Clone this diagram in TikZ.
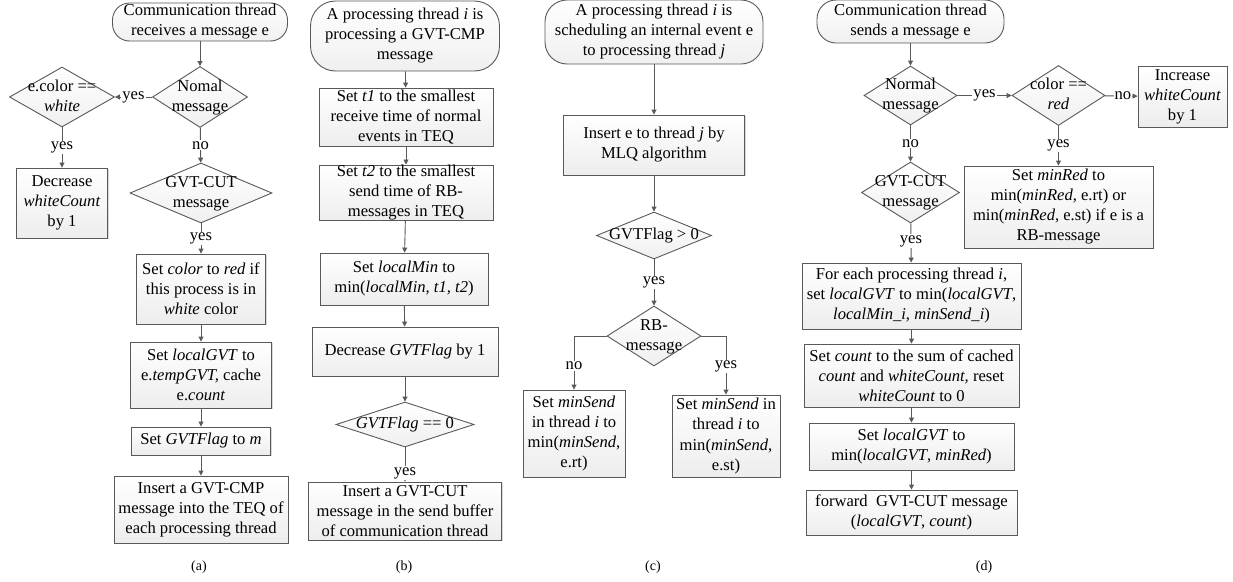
\documentclass[tikz,border=0pt]{standalone}
\usepackage{fontspec}
\setmainfont{Liberation Serif}
\usetikzlibrary{arrows.meta, shadows, shapes.geometric}

\newcommand{\dtext}[1]{\makebox[0pt]{\begin{tabular}{@{}c@{}}#1\end{tabular}}}

\begin{document}
\begin{tikzpicture}[x=1pt, y=-1pt, font=\fontsize{16.6}{20}\selectfont, line width=0.9pt,
		linecol/.style={draw=black!65},
		box/.style={rectangle, linecol, top color=white, bottom color=black!7, inner sep=0pt, align=center,
			drop shadow={shadow xshift=1.2pt, shadow yshift=-1.2pt, opacity=0.3}},
		term/.style={rectangle, linecol, top color=white, bottom color=black!6, inner sep=0pt, align=center},
		dec/.style={diamond, linecol, top color=white, bottom color=black!6, inner sep=0pt},
		arr/.style={draw=black!65, -{Triangle[length=5pt, width=5pt]}},
		lbl/.style={fill=white, inner sep=1pt},
		subcap/.style={font=\fontsize{14}{16}\selectfont}]
		\useasboundingbox (0,0) rectangle (1233,581);

		% (a)
		\node[term, rounded corners=17pt, minimum width=175, minimum height=38] (a0) at (200,22)
			{Communication thread\\receives a message e};
		\node[dec, minimum width=95, minimum height=61] (a1) at (200,97) {\dtext{Nomal\\message}};
		\node[dec, minimum width=105, minimum height=60] (a2) at (62,97) {\dtext{e.color ==\\\textit{white}}};
		\node[box, minimum width=91, minimum height=70] (a3) at (62,203) {Decrease\\\textit{whiteCount}\\by 1};
		\node[dec, minimum width=142, minimum height=60] (a4) at (201,193) {\dtext{GVT-CUT\\message}};
		\node[box, minimum width=129, minimum height=70] (a5) at (201,289)
			{Set \textit{color} to \textit{red} if\\this process is in\\\textit{white} color};
		\node[box, minimum width=141, minimum height=66] (a6) at (201,375)
			{Set \textit{localGVT} to\\e.\textit{tempGVT,} cache\\e.\textit{count}};
		\node[box, minimum width=139, minimum height=28] (a7) at (201,441) {Set \textit{GVTFlag} to \textit{m}};
		\node[box, minimum width=174, minimum height=67] (a8) at (201,509.5)
			{Insert a GVT-CMP\\message into the TEQ of\\each processing thread};
		\draw[arr] (a0) -- (a1);
		\draw[arr] (a1) -- node[lbl] {yes} (a2);
		\draw[arr] (a2) -- node[lbl] {yes} (a3);
		\draw[arr] (a1) -- node[lbl] {no} (a4);
		\draw[arr] (a4) -- node[lbl] {yes} (a5);
		\draw[arr] (a5) -- (a6);
		\draw[arr] (a6) -- (a7);
		\draw[arr] (a7) -- (a8);
		\node[subcap] (capa) at (199,567) {(a)};

		% (b)
		\node[term, rounded corners=25pt, minimum width=189, minimum height=70] (b0) at (405,36)
			{A processing thread \textit{i} is\\processing a GVT-CMP\\message};
		\node[box, minimum width=174, minimum height=58] (b1) at (406,117)
			{Set \textit{t1} to the smallest\\receive time of normal\\events in TEQ};
		\node[box, minimum width=174, minimum height=55] (b2) at (406,192.5)
			{Set \textit{t2} to the smallest\\send time of RB-\\messages in TEQ};
		\node[box, minimum width=168, minimum height=52] (b3) at (404,279)
			{Set \textit{localMin} to\\min(\textit{localMin, t1, t2})};
		\node[box, minimum width=186, minimum height=49] (b4) at (405,351.5) {Decrease \textit{GVTFlag} by 1};
		\node[dec, minimum width=138, minimum height=45] (b5) at (405,424.5) {\dtext{\textit{GVTFlag} == 0}};
		\node[box, minimum width=193, minimum height=58] (b6) at (405,511)
			{Insert a GVT-CUT\\message in the send buffer\\of communication thread};
		\draw[arr] (b0) -- (b1);
		\draw[arr] (b1) -- (b2);
		\draw[arr] (b2) -- (b3);
		\draw[arr] (b3) -- (b4);
		\draw[arr] (b4) -- (b5);
		\draw[arr] (b5) -- node[lbl, pos=0.75] {yes} (b6);
		\node[subcap] (capb) at (404,567) {(b)};

		% (c)
		\node[term, rounded corners=22pt, minimum width=218, minimum height=64] (c0) at (654,32)
			{A processing thread \textit{i} is\\scheduling an internal event e\\to processing thread \textit{j}};
		\node[box, minimum width=181, minimum height=60] (c1) at (654,145)
			{Insert e to thread \textit{j} by\\MLQ algorithm};
		\node[dec, minimum width=115, minimum height=47] (c2) at (654,235.5) {\dtext{GVTFlag > 0}};
		\node[dec, minimum width=94, minimum height=60] (c3) at (654,336) {\dtext{RB-\\message}};
		\node[box, minimum width=102, minimum height=87] (c4) at (574,433.5)
			{Set \textit{minSend}\\in thread \textit{i} to\\min(\textit{minSend},\\e.rt)};
		\node[box, minimum width=108, minimum height=82] (c5) at (726,436)
			{Set \textit{minSend} in\\thread \textit{i} to\\min(\textit{minSend},\\e.st)};
		\draw[arr] (c0) -- (c1);
		\draw[arr] (c1) -- (c2);
		\draw[arr] (c2) -- node[lbl] {yes} (c3);
		\draw[arr] (c3.west) -| node[lbl, pos=0.78] {no} (c4.north);
		\draw[arr] (c3.east) -| node[lbl, pos=0.76] {yes} (c5.north);
		\node[subcap] (capc) at (653,567) {(c)};

		% (d)
		\node[term, rounded corners=19pt, minimum width=187, minimum height=43] (d0) at (910.5,21.5)
			{Communication thread\\sends a message e};
		\node[dec, minimum width=93, minimum height=59] (d1) at (910.5,95.5) {\dtext{Normal\\message}};
		\node[dec, minimum width=93, minimum height=60] (d2) at (1058.5,95.5) {\dtext{color ==\\\textit{red}}};
		\node[box, minimum width=89, minimum height=61] (d3) at (1182.5,96.5) {Increase\\\textit{whiteCount}\\by 1};
		\node[box, minimum width=189, minimum height=82] (d4) at (1058.5,207)
			{Set \textit{minRed} to\\min(\textit{minRed}, e.rt) or\\min(\textit{minRed}, e.st) if e is a\\RB-message};
		\node[dec, minimum width=98, minimum height=61] (d5) at (910.5,192.5) {\dtext{GVT-CUT\\message}};
		\node[box, minimum width=219, minimum height=66] (d6) at (911.5,296)
			{For each processing thread \textit{i},\\set \textit{localGVT} to min(\textit{localGVT},\\\textit{localMin\_i}, \textit{minSend\_i})};
		\node[box, minimum width=215, minimum height=63] (d7) at (911.5,375.5)
			{Set \textit{count} to the sum of cached\\\textit{count} and \textit{whiteCount,} reset\\\textit{whiteCount} to 0};
		\node[box, minimum width=205, minimum height=47] (d8) at (911.5,446.5)
			{Set \textit{localGVT} to\\min(\textit{localGVT}, \textit{minRed})};
		\node[box, minimum width=211, minimum height=45] (d9) at (911.5,512.5)
			{forward~~GVT-CUT message\\(\textit{localGVT}, \textit{count})};
		\draw[arr] (d0) -- (d1);
		\draw[arr] (d1) -- node[lbl] {yes} (d2);
		\draw[arr] (d2) -- node[lbl, pos=0.55] {no} (d3);
		\draw[arr] (d2) -- node[lbl] {yes} (d4);
		\draw[arr] (d1) -- node[lbl] {no} (d5);
		\draw[arr] (d5) -- node[lbl, pos=0.45] {yes} (d6);
		\draw[arr] (d6) -- (d7);
		\draw[arr] (d7) -- (d8);
		\draw[arr] (d8) -- (d9);
		\node[subcap] (capd) at (984,567) {(d)};
	\end{tikzpicture}
\end{document}
